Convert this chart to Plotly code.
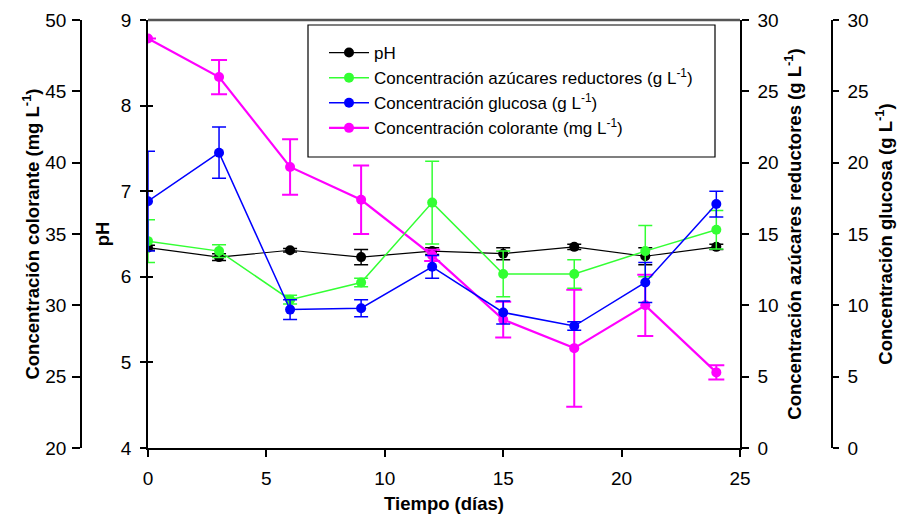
import plotly.graph_objects as go

days = [0, 3, 6, 9, 12, 15, 18, 21, 24]

ph = [6.34, 6.23, 6.31, 6.23, 6.30, 6.27, 6.35, 6.24, 6.35]
ph_err = [0.03, 0.04, 0.02, 0.09, 0.04, 0.07, 0.03, 0.1, 0.03]

azucares = [14.5, 13.8, 10.4, 11.6, 17.2, 12.2, 12.2, 13.8, 15.3]
azucares_err = [1.5, 0.45, 0.3, 0.3, 2.9, 1.6, 1.0, 1.8, 1.35]

glucosa = [17.3, 20.7, 9.7, 9.8, 12.7, 9.5, 8.55, 11.6, 17.1]
glucosa_err = [3.5, 1.8, 0.7, 0.6, 0.8, 0.8, 0.3, 1.4, 0.9]

colorante = [48.7, 46.0, 39.7, 37.4, 33.5, 29.0, 27.0, 30.0, 25.3]
colorante_err = [0.0, 1.2, 1.95, 2.4, 0.4, 1.25, 4.1, 2.15, 0.5]

names = ["pH",
         "Concentración azúcares reductores (g L<sup>-1</sup>)",
         "Concentración glucosa (g L<sup>-1</sup>)",
         "Concentración colorante (mg L<sup>-1</sup>)"]

FONT = "Liberation Sans, Arial, sans-serif"
X0, X1 = 148/900, 740/900

fig = go.Figure()

def add(y, err, name, color, axis, lw, ew, cap):
    fig.add_trace(go.Scatter(
        x=days, y=y, name=name, yaxis=axis, mode="lines+markers",
        line=dict(color=color, width=lw),
        marker=dict(color=color, size=10),
        error_y=dict(type="data", array=err, visible=True, color=color,
                     thickness=ew, width=cap),
    ))

add(ph, ph_err, names[0], "black", "y", 1.2, 1.5, 7)
add(azucares, azucares_err, names[1], "#33ff33", "y3", 1.5, 1.5, 7)
add(glucosa, glucosa_err, names[2], "#0000ff", "y4", 1.5, 1.5, 7)
add(colorante, colorante_err, names[3], "#ff00ff", "y2", 2.2, 2, 8)

tickf = dict(family=FONT, size=19, color="black")
titf = dict(family=FONT, size=18.5, color="black")

axis_common = dict(showgrid=False, zeroline=False, showline=True,
                   linecolor="black", linewidth=1.5, tickcolor="black",
                   tickwidth=1.5, tickfont=tickf, automargin=False,
                   ticklabelstandoff=5)

fig.update_layout(
    width=900, height=517,
    margin=dict(l=0, r=0, t=20, b=69, autoexpand=False),
    paper_bgcolor="white", plot_bgcolor="white",
    font=dict(family=FONT, color="black"),
    xaxis=dict(domain=[X0, X1], range=[0, 25], dtick=5,
               ticks="outside", ticklen=7,
               title=dict(text="<b>Tiempo (días)</b>", font=titf, standoff=10),
               **axis_common),
    yaxis=dict(range=[4, 9], dtick=1, ticks="outside", ticklen=6,
               title=dict(text="<b>pH</b>", font=titf, standoff=6),
               **axis_common),
    yaxis2=dict(range=[20, 50], dtick=5, overlaying="y", side="left",
                anchor="free", position=81/900, ticks="outside", ticklen=8,
                title=dict(text="<b>Concentración colorante (mg L<sup>-1</sup>)</b>",
                           font=titf, standoff=0),
                **{**axis_common, "ticklabelstandoff": 2}),
    yaxis3=dict(range=[0, 30], dtick=5, overlaying="y", side="right",
                anchor="x", ticks="outside", ticklen=7,
                title=dict(text="<b>Concentración azúcares reductores (g L<sup>-1</sup>)</b>",
                           font=titf, standoff=10),
                **axis_common),
    yaxis4=dict(range=[0, 30], dtick=5, overlaying="y", side="right",
                anchor="free", position=832/900, ticks="outside", ticklen=6,
                title=dict(text="<b>Concentración glucosa (g L<sup>-1</sup>)</b>",
                           font=titf, standoff=10),
                **axis_common),
    # inward tick marks on the pH axis so its ticks cross the axis line
    yaxis5=dict(range=[4, 9], dtick=1, overlaying="y", side="left",
                anchor="x", ticks="inside", ticklen=5, showticklabels=False,
                showgrid=False, zeroline=False, showline=False,
                tickcolor="black", tickwidth=1.5, automargin=False),
    legend=dict(x=324/900, xanchor="left", y=(448-35)/428, yanchor="top",
                xref="paper", borderwidth=0,
                bgcolor="rgba(0,0,0,0)", font=dict(family=FONT, size=17, color="black"),
                itemwidth=40, tracegroupgap=0),
    showlegend=True,
    shapes=[
        dict(type="line", xref="paper", yref="paper", x0=X0, x1=X1,
             y0=1, y1=1, line=dict(color="#555", width=2.5)),
        dict(type="rect", xref="paper", yref="paper",
             x0=308/900, x1=715/900, y0=(448-157)/428, y1=(448-25)/428,
             line=dict(color="black", width=1.2), fillcolor="rgba(0,0,0,0)",
             layer="above"),
    ],
)

# invisible helper trace so the inward-tick axis is drawn
fig.add_trace(go.Scatter(x=[None], y=[None], yaxis="y5", showlegend=False,
                         hoverinfo="skip"))

fig.write_html("out.html")
